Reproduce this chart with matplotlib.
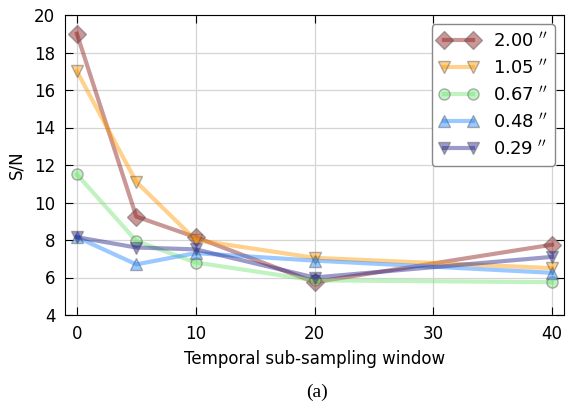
import matplotlib.pyplot as plt
import numpy as np

# datos
windows = [0, 5, 10, 20, 40]
labels = ['2.00 $^{\\prime\\prime}$', '1.05 $^{\\prime\\prime}$', '0.67 $^{\\prime\\prime}$',
          '0.48 $^{\\prime\\prime}$', '0.29 $^{\\prime\\prime}$']
sn_200 = [19.0, 9.25, 8.15, 5.75, 7.75]
sn_105 = [17.0, 11.1, 8.0, 7.05, 6.5]
sn_067 = [11.5, 7.95, 6.8, 5.85, 5.75]
sn_048 = [8.15, 6.7, 7.3, 6.9, 6.25]
sn_029 = [8.15, 7.6, 7.5, 6.0, 7.1]

series = [sn_200, sn_105, sn_067, sn_048, sn_029]
colors = ['#8b1a1a', '#ff9900', '#77e377', '#2288ff', '#22228b']
markers = ['D', 'v', 'o', '^', 'v']
sizes = [9, 9, 8, 9, 9]

fig = plt.figure(figsize=(5.66, 4.09), dpi=100)
ax = fig.add_axes([65/566, 1 - 315/409, 499/566, 300/409])

for s, c, m, ms, lab in zip(series, colors, markers, sizes, labels):
    ax.plot(windows, s, color=c, marker=m, markersize=ms, lw=3, alpha=0.45,
            markeredgecolor='#555555', markeredgewidth=1, label=lab)

ax.set_xlim(-1, 41)
ax.set_ylim(4, 20)
ax.set_xticks([0, 10, 20, 30, 40])
ax.set_yticks(np.arange(4, 21, 2))
ax.grid(True, color='#d5d5d5', lw=0.9)
ax.tick_params(direction='in', top=True, right=True, labelsize=12, length=6, pad=7)
ax.set_xlabel('Temporal sub-sampling window', fontsize=12, labelpad=5)
ax.set_ylabel('S/N', fontsize=12, labelpad=6)

ax.legend(loc='upper right', fontsize=13, labelspacing=0.45, handlelength=2.2,
          numpoints=2, framealpha=1, edgecolor='#888888', fancybox=True,
          borderaxespad=0.5)

fig.text(317/566, 0.03, '(a)', fontsize=14, family='Liberation Serif', ha='center')

plt.savefig('out.png', dpi=100)
